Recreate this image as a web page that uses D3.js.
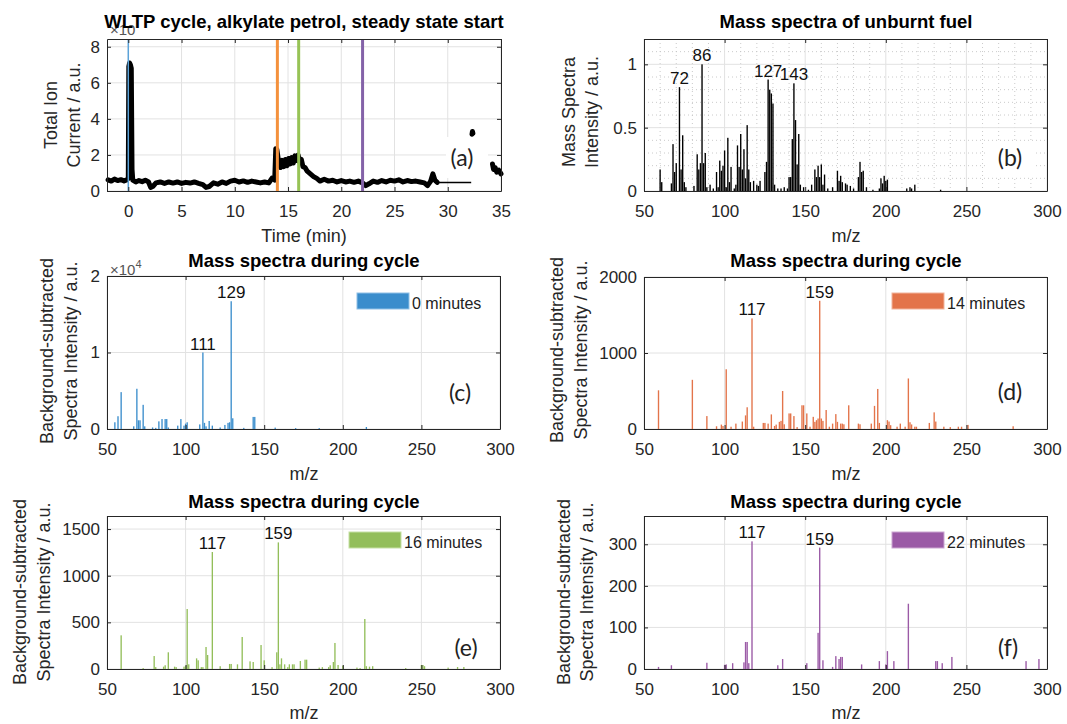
<!DOCTYPE html>
<html>
<head>
<meta charset="utf-8">
<script src="https://cdn.jsdelivr.net/npm/d3@7"></script>
<style>
  body { margin: 0; background: #fff; }
  svg { display: block; font-family: "Liberation Sans", Arial, sans-serif; }
</style>
</head>
<body>
<svg id="chart" width="1067" height="724"></svg>
<script>
// (a) total ion current over the WLTP cycle, null = gap in the trace
var ticTime = [-1.9, -1.6, -1.3, -1.0, -0.7, -0.4, -0.15, 0.0, 0.05, 0.12, 0.2, 0.28, 0.35, 0.42, 0.7, 1.0, 1.3, 1.6, 1.9,
  2.1, 2.3, 2.6, 3.0, 3.4, 3.8, 4.2, 4.6, 5.0, 5.4, 5.8, 6.2, 6.6, 7.0, 7.3, 7.6, 8.0, 8.4, 8.8, 9.2, 9.6, 10.0, 10.4,
  10.8, 11.2, 11.6, 12.0, 12.4, 12.8, 13.2, 13.5, 13.75, 13.85, 13.95, 14.1, 14.3, 14.45, 14.6, 14.75, 14.9, 15.05,
  15.2, 15.35, 15.5, 15.65, 15.8, 15.95, 16.1, 16.25, 16.4, 16.6, 16.8, 17.1, 17.4, 17.7, 18.0, 18.4, 18.8, 19.2, 19.6,
  20.0, 20.4, 20.8, 21.2, 21.6, 22.0, 22.3, 22.6, 23.0, 23.4, 23.8, 24.2, 24.6, 25.0, 25.4, 25.8, 26.2, 26.6, 27.0,
  27.4, 27.8, 28.1, 28.4, 28.6, 28.8, 29.0, 31.0, 32.28, 32.32, 32.36, 33.0, 34.2, 34.3, 34.45, 34.6, 34.8, 35.0];
var ticValue = [0.62, 0.55, 0.66, 0.58, 0.63, 0.56, 0.62, 0.7, 6.9, 7.1, 7.0, 6.8, 1.2, 0.6, 0.5, 0.58, 0.52, 0.6, 0.5,
  0.2, 0.25, 0.45, 0.5, 0.42, 0.5, 0.44, 0.5, 0.42, 0.48, 0.44, 0.5, 0.42, 0.35, 0.2, 0.25, 0.45, 0.38, 0.5, 0.42, 0.55,
  0.6, 0.5, 0.56, 0.48, 0.55, 0.5, 0.45, 0.5, 0.45, 0.72, 0.6, 2.35, 2.3, 1.7, 1.3, 1.7, 1.35, 1.75, 1.4, 1.8,
  1.5, 1.85, 1.55, 1.95, 1.7, 2.0, 1.6, 1.75, 1.35, 1.3, 1.1, 0.95, 0.8, 0.7, 0.55, 0.65, 0.55, 0.6, 0.5,
  0.58, 0.5, 0.55, 0.48, 0.55, 0.45, 0.3, 0.4, 0.55, 0.48, 0.58, 0.5, 0.6, 0.55, 0.62, 0.5, 0.58, 0.52, 0.55,
  0.5, 0.45, 0.3, 0.55, 0.95, 0.6, 0.48, null, 3.15, 3.3, 3.2, null, 1.5, 1.2, 1.3, 1.05, 1.15, 0.95];
var ticTailTime = [29.0, 32.2];
var ticTailValue = [0.47, 0.47];
var markerTimes = [0, 14, 16, 22];

// (b) unburnt fuel spectrum
var fuelMz = [60, 61, 67, 68, 69, 70, 72, 73, 74, 75, 76, 81, 83, 84, 85, 86, 87, 88, 89, 91, 93, 95, 96, 97, 98, 99,
  100, 101, 102, 103, 104, 106, 107, 108, 109, 110, 111, 112, 113, 114, 115, 116, 118, 120, 121, 122, 125, 126, 127,
  128, 129, 130, 131, 133, 135, 137, 139, 140, 141, 142, 143, 144, 145, 146, 147, 149, 152, 154, 156, 157, 158, 159,
  160, 161, 162, 164, 167, 170, 171, 172, 173, 175, 176, 178, 180, 183, 184, 185, 186, 188, 192, 196, 197, 198, 199,
  200, 201, 213, 215, 216, 218, 234];
var fuelIntensity = [0.17, 0.07, 0.06, 0.37, 0.15, 0.22, 0.82, 0.17, 0.44, 0.07, 0.03, 0.04, 0.29, 0.17, 0.22, 1.0,
  0.22, 0.30, 0.03, 0.05, 0.02, 0.15, 0.03, 0.24, 0.16, 0.20, 0.32, 0.03, 0.42, 0.07, 0.19, 0.02, 0.05, 0.36, 0.19,
  0.45, 0.17, 0.33, 0.10, 0.52, 0.17, 0.07, 0.08, 0.05, 0.04, 0.08, 0.15, 0.23, 0.88, 0.80, 0.77, 0.69, 0.05, 0.02,
  0.02, 0.03, 0.02, 0.11, 0.11, 0.41, 0.85, 0.56, 0.21, 0.45, 0.05, 0.03, 0.01, 0.05, 0.17, 0.11, 0.20, 0.11, 0.21,
  0.05, 0.13, 0.02, 0.03, 0.16, 0.08, 0.12, 0.07, 0.06, 0.05, 0.04, 0.02, 0.11, 0.23, 0.15, 0.16, 0.03, 0.01, 0.02,
  0.10, 0.06, 0.12, 0.08, 0.09, 0.02, 0.03, 0.02, 0.05, 0.01];
var fuelPeaks = [72, 86, 127, 143];

// (c) 0 minutes
var mz0 = [55, 57, 59, 67, 69, 70, 71, 73, 74, 79, 81, 83, 85, 87, 88, 89, 95, 97, 99, 100, 101, 109, 111, 112, 113,
  115, 117, 122, 125, 127, 128, 129, 130, 137, 143, 144, 157, 170, 185, 215];
var int0 = [880, 1670, 4820, 350, 5260, 1140, 1140, 3160, 350, 200, 150, 1000, 1300, 1300, 1300, 200, 440, 1300, 440,
  700, 880, 600, 10000, 800, 350, 1050, 440, 200, 530, 800, 880, 16700, 1400, 150, 1580, 1580, 180, 120, 120, 260];
var peaks0 = [111, 129];

// (d) 14 minutes
var mz14 = [59, 80, 89, 95, 98, 99, 101, 104, 107, 111, 113, 114, 117, 118, 124, 125, 127, 129, 131, 132, 134, 135,
  136, 137, 140, 141, 143, 145, 148, 149, 151, 153, 155, 156, 157, 158, 159, 160, 161, 163, 165, 167, 169, 170, 172,
  173, 174, 177, 183, 184, 191, 193, 195, 196, 201, 202, 203, 207, 209, 212, 214, 215, 216, 218, 219, 227, 230, 231,
  236, 240, 245, 247, 251, 279];
var int14 = [509, 647, 170, 36, 58, 40, 786, 30, 71, 98, 179, 286, 1455, 30, 80, 80, 71, 192, 40, 58, 94, 107, 500, 62,
  205, 205, 170, 25, 312, 312, 205, 30, 160, 94, 116, 138, 1687, 138, 107, 250, 30, 71, 196, 94, 71, 71, 62, 312, 71,
  62, 71, 304, 527, 80, 116, 98, 50, 30, 71, 30, 665, 89, 60, 30, 30, 80, 219, 98, 30, 25, 30, 30, 54, 36];
var peaks14 = [117, 159];

// (e) 16 minutes
var mz16 = [59, 73, 80, 81, 86, 87, 89, 93, 94, 99, 100, 101, 102, 107, 108, 110, 111, 113, 114, 117, 122, 128, 129,
  133, 136, 141, 143, 148, 150, 155, 158, 159, 160, 161, 163, 165, 166, 168, 169, 173, 176, 177, 185, 187, 191, 192,
  194, 195, 197, 200, 209, 211, 214, 215, 217, 219, 240, 250, 251, 252, 267, 273, 277];
var int16 = [361, 10, 139, 20, 25, 40, 179, 25, 20, 25, 36, 643, 50, 114, 93, 20, 20, 236, 150, 1254, 30, 54, 54, 50,
  343, 82, 75, 257, 93, 20, 179, 1357, 50, 114, 50, 20, 50, 50, 50, 86, 100, 100, 15, 20, 20, 40, 75, 279, 43, 36, 15,
  10, 536, 30, 25, 30, 10, 43, 43, 30, 15, 21, 21];
var peaks16 = [117, 159];

// (f) 22 minutes
var mz22 = [59, 67, 89, 100, 101, 105, 112, 113, 114, 115, 117, 133, 136, 151, 158, 159, 161, 167, 169, 171, 172, 173,
  185, 196, 200, 201, 205, 214, 231, 232, 235, 241, 287, 295];
var int22 = [5, 9, 15, 10, 11, 14, 16, 65, 65, 14, 307, 9, 24, 14, 87, 292, 21, 5, 31, 24, 29, 29, 11, 19, 11, 43, 19,
  157, 19, 19, 14, 29, 19, 24];
var peaks22 = [117, 159];

// ticks
var timeTicks = [0, 5, 10, 15, 20, 25, 30, 35];
var ionTicks = [0, 2, 4, 6, 8];
var mzTicks = [50, 100, 150, 200, 250, 300];
var fuelTicks = [0, 0.5, 1];
var ticks0 = [0, 10000, 20000];
var ticks14 = [0, 1000, 2000];
var ticks16 = [0, 500, 1000, 1500];
var ticks22 = [0, 100, 200, 300];

var ink = '#262626';
var svg = d3.select('#chart');

// Axes frame with grid, MATLAB-style inward ticks on all four sides
function panel(box, xDomain, yDomain, xTicks, yTicks, yFormat) {
  var x = d3.scaleLinear().domain(xDomain).range([box.left, box.right]);
  var y = d3.scaleLinear().domain(yDomain).range([box.bottom, box.top]);
  var root = svg.append('g');
  var minor = root.append('g');
  var grid = root.append('g').attr('stroke', '#e2e2e2').attr('stroke-width', 1);
  grid.selectAll('.gx').data(xTicks).join('line')
    .attr('x1', (d) => x(d)).attr('x2', (d) => x(d))
    .attr('y1', box.top).attr('y2', box.bottom);
  grid.selectAll('.gy').data(yTicks).join('line')
    .attr('y1', (d) => y(d)).attr('y2', (d) => y(d))
    .attr('x1', box.left).attr('x2', box.right);
  var data = root.append('g');
  var axes = root.append('g');
  var over = root.append('g');

  var fmt = yFormat || ((d) => d);
  axes.append('g').attr('transform', `translate(0,${box.bottom})`)
    .call(d3.axisBottom(x).tickValues(xTicks).tickSize(-4).tickSizeOuter(0).tickPadding(14).tickFormat((d) => d));
  axes.append('g').attr('transform', `translate(0,${box.top})`)
    .call(d3.axisTop(x).tickValues(xTicks).tickSize(-4).tickSizeOuter(0).tickFormat(''));
  axes.append('g').attr('transform', `translate(${box.left},0)`)
    .call(d3.axisLeft(y).tickValues(yTicks).tickSize(-4).tickSizeOuter(0).tickPadding(7).tickFormat(fmt));
  axes.append('g').attr('transform', `translate(${box.right},0)`)
    .call(d3.axisRight(y).tickValues(yTicks).tickSize(-4).tickSizeOuter(0).tickFormat(''));
  axes.selectAll('g').attr('font-family', null).attr('font-size', 17);
  axes.selectAll('.domain').attr('stroke', ink);
  axes.selectAll('.tick line').attr('stroke', ink);
  axes.selectAll('.tick text').attr('fill', ink);

  return { x: x, y: y, box: box, minor: minor, data: data, over: over };
}

function text(x, y, str, size, opts) {
  opts = opts || {};
  return svg.append('text')
    .attr('x', x).attr('y', y)
    .attr('text-anchor', opts.anchor || 'middle')
    .attr('font-size', size)
    .attr('font-weight', opts.bold ? 'bold' : null)
    .attr('font-family', opts.family || null)
    .attr('fill', opts.fill || ink)
    .text(str);
}

function yLabel(lines, xs, cy) {
  lines.forEach((t, i) => {
    svg.append('text')
      .attr('transform', `translate(${xs[i]},${cy}) rotate(-90)`)
      .attr('text-anchor', 'middle').attr('font-size', 18).attr('fill', ink)
      .text(t);
  });
}

function bars(p, mz, values, color) {
  var w = (p.x(1) - p.x(0)) * 0.85;
  p.data.selectAll('rect').data(d3.zip(mz, values)).join('rect')
    .attr('x', (d) => p.x(d[0]) - w / 2)
    .attr('width', w)
    .attr('y', (d) => p.y(d[1]))
    .attr('height', (d) => p.y(0) - p.y(d[1]))
    .attr('fill', color);
}

function peakLabels(p, mz, values, peaks) {
  p.over.selectAll('text.peak').data(peaks).join('text')
    .attr('class', 'peak')
    .attr('x', (d) => p.x(d))
    .attr('y', (d) => p.y(values[mz.indexOf(d)]) - 3)
    .attr('text-anchor', 'middle').attr('font-size', 17).attr('fill', '#111')
    .text((d) => d);
}

function legend(x0, y0, color, edge, str) {
  svg.append('rect').attr('x', x0).attr('y', y0).attr('width', 52).attr('height', 16)
    .attr('fill', color).attr('stroke', edge).attr('stroke-width', 1);
  text(x0 + 55, y0 + 16, str, 16, { anchor: 'start', fill: '#222' });
}

function tag(cx, baseline, str, bg) {
  if (bg) svg.append('rect').attr('x', bg[0]).attr('y', bg[1]).attr('width', bg[2]).attr('height', bg[3]).attr('fill', '#fff');
  text(cx, baseline, str, 23, { family: 'Lato, "Open Sans", sans-serif', fill: '#222' });
}

// ---------- (a) ----------
var pa = panel({ left: 107, right: 501, top: 39, bottom: 191 }, [-2, 35], [0, 8.43], timeTicks, ionTicks);
var ticLine = d3.line().defined((d) => d[1] != null).x((d) => pa.x(d[0])).y((d) => pa.y(d[1]));
pa.data.append('path').datum(d3.zip(ticTime, ticValue)).attr('d', ticLine)
  .attr('fill', 'none').attr('stroke', '#000').attr('stroke-width', 5)
  .attr('stroke-linejoin', 'round').attr('stroke-linecap', 'round');
pa.data.append('path').datum(d3.zip(ticTailTime, ticTailValue)).attr('d', ticLine)
  .attr('fill', 'none').attr('stroke', '#000').attr('stroke-width', 1.5);
var markerColors = ['#5ba3d9', '#f4913c', '#97c356', '#8462a8'];
var markerWidths = [1.5, 3, 3, 3];
pa.data.selectAll('line.marker').data(markerTimes).join('line')
  .attr('class', 'marker')
  .attr('x1', (d) => pa.x(d)).attr('x2', (d) => pa.x(d))
  .attr('y1', 39).attr('y2', 191)
  .attr('stroke', (d, i) => markerColors[i]).attr('stroke-width', (d, i) => markerWidths[i]);
text(110, 35, '\u00d710', 15, { anchor: 'start', fill: '#555' });
text(304, 28, 'WLTP cycle, alkylate petrol, steady state start', 18.5, { bold: true, fill: '#000' });
text(304, 242, 'Time (min)', 18);
yLabel(['Total Ion', 'Current / a.u.'], [57, 80], 115);
tag(462, 166, '(a)', [446, 137, 42, 41]);

// ---------- (b) ----------
var pb = panel({ left: 644, right: 1047, top: 39, bottom: 191 }, [50, 300], [0, 1.2], mzTicks, fuelTicks);
var minorX = d3.range(60, 300, 10).filter((d) => d % 50 !== 0);
var minorY = d3.range(1, 12).map((d) => d / 10).filter((d) => d !== 0.5 && d !== 1);
pb.minor.attr('stroke', '#c4c4c4').attr('stroke-width', 0.9).attr('stroke-dasharray', '1,3');
pb.minor.selectAll('.mx').data(minorX).join('line')
  .attr('x1', (d) => pb.x(d)).attr('x2', (d) => pb.x(d)).attr('y1', 39).attr('y2', 191);
pb.minor.selectAll('.my').data(minorY).join('line')
  .attr('y1', (d) => pb.y(d)).attr('y2', (d) => pb.y(d)).attr('x1', 644).attr('x2', 1047);
bars(pb, fuelMz, fuelIntensity, '#000');
peakLabels(pb, fuelMz, fuelIntensity, fuelPeaks);
text(846, 28, 'Mass spectra of unburnt fuel', 18.5, { bold: true, fill: '#000' });
text(846, 242, 'm/z', 18);
yLabel(['Mass Spectra', 'Intensity / a.u.'], [575, 598], 112);
tag(1010, 166, '(b)', [988, 143, 46, 34]);

// ---------- (c) ----------
var pc = panel({ left: 107, right: 500, top: 276, bottom: 429 }, [50, 300], [0, 20000], mzTicks, ticks0, (d) => d / 10000);
bars(pc, mz0, int0, '#3a8dcc');
peakLabels(pc, mz0, int0, peaks0);
legend(357, 293, '#3a8dcc', '#8fc0e6', '0 minutes');
var exp = text(110, 275, '\u00d710', 15, { anchor: 'start', fill: '#555' });
exp.append('tspan').attr('dy', -7).attr('font-size', 11).text('4');
text(304, 267, 'Mass spectra during cycle', 18.5, { bold: true, fill: '#000' });
text(304, 480, 'm/z', 18);
yLabel(['Background-subtracted', 'Spectra Intensity / a.u.'], [53, 77], 351);
tag(460, 401, '(c)');

// ---------- (d) ----------
var pd = panel({ left: 644, right: 1047, top: 277, bottom: 429 }, [50, 300], [0, 2000], mzTicks, ticks14);
bars(pd, mz14, int14, '#e3744a');
peakLabels(pd, mz14, int14, peaks14);
legend(892, 293, '#e3744a', '#f1b49b', '14 minutes');
text(846, 267, 'Mass spectra during cycle', 18.5, { bold: true, fill: '#000' });
text(846, 480, 'm/z', 18);
yLabel(['Background-subtracted', 'Spectra Intensity / a.u.'], [563, 587], 350);
tag(1010, 400, '(d)');

// ---------- (e) ----------
var pe = panel({ left: 107, right: 500, top: 516, bottom: 669 }, [50, 300], [0, 1640], mzTicks, ticks16);
bars(pe, mz16, int16, '#93be5a');
peakLabels(pe, mz16, int16, peaks16);
legend(349, 532, '#93be5a', '#c6e0a4', '16 minutes');
text(304, 508, 'Mass spectra during cycle', 18.5, { bold: true, fill: '#000' });
text(304, 719, 'm/z', 18);
yLabel(['Background-subtracted', 'Spectra Intensity / a.u.'], [26, 50], 592);
tag(466, 656, '(e)');

// ---------- (f) ----------
var pf = panel({ left: 644, right: 1047, top: 516, bottom: 669 }, [50, 300], [0, 368], mzTicks, ticks22);
bars(pf, mz22, int22, '#9b5aa6');
peakLabels(pf, mz22, int22, peaks22);
legend(892, 532, '#9b5aa6', '#cba6d1', '22 minutes');
text(846, 508, 'Mass spectra during cycle', 18.5, { bold: true, fill: '#000' });
text(846, 719, 'm/z', 18);
yLabel(['Background-subtracted', 'Spectra Intensity / a.u.'], [570, 593], 592);
tag(1008, 656, '(f)');
</script>
</body>
</html>
